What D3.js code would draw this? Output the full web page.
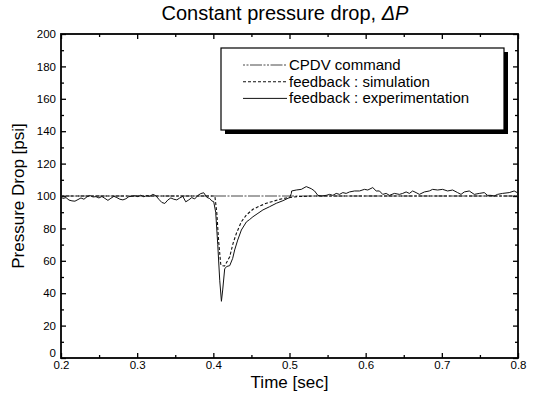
<!DOCTYPE html>
<html><head><meta charset="utf-8">
<script src="https://cdn.jsdelivr.net/npm/d3@7"></script>
<style>
body{margin:0;background:#fff}
text{font-family:Arial,"Liberation Sans",Helvetica,sans-serif;fill:#000}
</style>
</head><body>
<svg id="chart" width="537" height="399"></svg>
<script>
// ---- data ----
const xTickValues = [0.2, 0.3, 0.4, 0.5, 0.6, 0.7, 0.8];
const xTickLabels = ["0.2", "0.3", "0.4", "0.5", "0.6", "0.7", "0.8"];
const yTickValues = [0, 20, 40, 60, 80, 100, 120, 140, 160, 180, 200];
const yTickLabels = ["0", "20", "40", "60", "80", "100", "120", "140", "160", "180", "200"];

const cmdTime = [0.2, 0.8];
const cmdPress = [100, 100];

const simTime = [0.2, 0.402, 0.4045, 0.407, 0.4097, 0.4106, 0.4149, 0.4215, 0.4259, 0.4303, 0.4368, 0.4434, 0.452, 0.4608, 0.4696, 0.4783, 0.487, 0.4958, 0.51, 0.53, 0.8];
const simPress = [100, 100, 90, 72, 58, 57, 56.8, 62.5, 70.8, 77, 84.1, 88.3, 91.8, 93.8, 95.5, 96.7, 97.9, 98.8, 99.6, 100, 100];

const expTime = [0.200, 0.2026, 0.2066, 0.2105, 0.2144, 0.2183, 0.2223, 0.2262, 0.2301, 0.2341, 0.238, 0.242, 0.2459, 0.2498, 0.2537, 0.2577, 0.2616, 0.2655, 0.2695, 0.2734, 0.2773, 0.2813, 0.2852, 0.2891, 0.293, 0.297, 0.3009, 0.3048, 0.3088, 0.3127, 0.3166, 0.3206, 0.3245, 0.3284, 0.3324, 0.3363, 0.3402, 0.3442, 0.3481, 0.352, 0.356, 0.3599, 0.3638, 0.3678, 0.3717, 0.3756, 0.3796, 0.3835, 0.3874, 0.3914, 0.3953, 0.3979, 0.4005, 0.4031, 0.4058, 0.4084, 0.4106, 0.4123, 0.4149, 0.4175, 0.4215, 0.4254, 0.428, 0.432, 0.4368, 0.4434, 0.4477, 0.452, 0.4586, 0.4651, 0.4739, 0.4827, 0.4914, 0.498, 0.5001, 0.5024, 0.5028, 0.5089, 0.5155, 0.522, 0.5286, 0.5329, 0.5372, 0.5417, 0.5482, 0.5526, 0.5569, 0.5613, 0.5657, 0.57, 0.5744, 0.5788, 0.5853, 0.5919, 0.5984, 0.6028, 0.6093, 0.6138, 0.6181, 0.6224, 0.6269, 0.6312, 0.6377, 0.6443, 0.6486, 0.6531, 0.6574, 0.6617, 0.6662, 0.6705, 0.6771, 0.6836, 0.6879, 0.6945, 0.701, 0.7076, 0.7142, 0.7207, 0.7252, 0.7295, 0.736, 0.7426, 0.7492, 0.7557, 0.76, 0.7645, 0.7688, 0.7731, 0.7797, 0.7885, 0.795, 0.799];
const expPress = [99.5, 98.5, 99.0, 97.5, 97.0, 96.8, 97.8, 98.8, 98.0, 99.5, 100.3, 99.4, 99.6, 98.8, 99.7, 98.5, 97.3, 98.6, 99.8, 99.0, 98.0, 97.6, 98.3, 99.6, 99.8, 100.2, 99.6, 100.5, 99.5, 100.3, 99.8, 101.0, 100.2, 98.0, 96.0, 95.4, 97.5, 98.8, 98.0, 97.6, 98.8, 99.8, 96.4, 97.6, 99.0, 98.2, 100.3, 101.5, 102.0, 99.2, 98.4, 97.0, 96.5, 90, 70, 48, 35, 42, 55, 56.5, 57, 61.5, 66.7, 72.8, 79, 84, 85.5, 87.2, 89.3, 91.4, 93.4, 95.5, 97.1, 98.6, 99.0, 101.5, 103.1, 103.7, 104.1, 105.8, 104.5, 103.1, 100.4, 100.0, 100.4, 101.0, 100.4, 101.6, 101.0, 102.1, 101.6, 102.5, 103.1, 103.1, 104.1, 103.7, 105.2, 103.1, 103.1, 101.0, 101.6, 100.4, 101.6, 101.0, 101.6, 102.5, 101.6, 103.1, 102.1, 101.0, 102.5, 103.1, 104.1, 103.7, 104.1, 103.1, 103.7, 102.1, 101.0, 102.5, 103.1, 101.0, 101.6, 102.1, 100.4, 100.4, 100.0, 101.0, 101.6, 102.1, 103.1, 102.1];

const legendLabels = ["CPDV command", "feedback : simulation", "feedback : experimentation"];
const titleMain = "Constant pressure drop, ";
const titleSymbol = "ΔP";
const xLabel = "Time [sec]";
const yLabel = "Pressure Drop [psi]";

// ---- layout ----
const L = 61, R = 518, T = 34, B = 358;
const svg = d3.select("#chart");
const x = d3.scaleLinear().domain([0.2, 0.8]).range([L, R]);
const y = d3.scaleLinear().domain([0, 200]).range([B, T]);

const xMinor = d3.range(0.25, 0.8, 0.1);
const yMinor = d3.range(10, 200, 20);

function styleAxis(g) {
  g.select(".domain").remove();
  g.selectAll(".tick line").attr("stroke", "#000").attr("stroke-width", 1.3);
  g.selectAll(".tick text").attr("font-size", 11.5).attr("fill", "#000")
    .style("font-family", "Arial, 'Liberation Sans', sans-serif");
}

// bottom axis (major + labels)
svg.append("g").attr("transform", `translate(0,${B})`)
  .call(d3.axisBottom(x).tickValues(xTickValues).tickFormat((d, i) => xTickLabels[i]).tickSize(-5).tickPadding(3))
  .call(styleAxis);
svg.append("g").attr("transform", `translate(0,${B})`)
  .call(d3.axisBottom(x).tickValues(xMinor).tickFormat("").tickSize(-3))
  .call(styleAxis);
// top axis
svg.append("g").attr("transform", `translate(0,${T})`)
  .call(d3.axisTop(x).tickValues(xTickValues).tickFormat("").tickSize(-5))
  .call(styleAxis);
svg.append("g").attr("transform", `translate(0,${T})`)
  .call(d3.axisTop(x).tickValues(xMinor).tickFormat("").tickSize(-3))
  .call(styleAxis);
// left axis
const gl = svg.append("g").attr("transform", `translate(${L},0)`)
  .call(d3.axisLeft(y).tickValues(yTickValues).tickFormat((d, i) => yTickLabels[i]).tickSize(-5).tickPadding(5))
  .call(styleAxis);
gl.selectAll(".tick text").filter(d => d === 0).attr("dy", "-0.1em");
svg.append("g").attr("transform", `translate(${L},0)`)
  .call(d3.axisLeft(y).tickValues(yMinor).tickFormat("").tickSize(-3))
  .call(styleAxis);
// right axis
svg.append("g").attr("transform", `translate(${R},0)`)
  .call(d3.axisRight(y).tickValues(yTickValues).tickFormat("").tickSize(-5))
  .call(styleAxis);
svg.append("g").attr("transform", `translate(${R},0)`)
  .call(d3.axisRight(y).tickValues(yMinor).tickFormat("").tickSize(-3))
  .call(styleAxis);

// frame
svg.append("rect").attr("x", L).attr("y", T).attr("width", R - L).attr("height", B - T)
  .attr("fill", "none").attr("stroke", "#000").attr("stroke-width", 1.8);

// series
const line = d3.line().x(d => x(d[0])).y(d => y(d[1]));
const cmdData = cmdTime.map((t, i) => [t, cmdPress[i]]);
const simData = simTime.map((t, i) => [t, simPress[i]]);
const expData = expTime.map((t, i) => [t, expPress[i]]);

const styles = [
  {stroke: "#333", width: 0.9, dash: "12,1.5,2,1.5"},
  {stroke: "#111", width: 1.1, dash: "3,2"},
  {stroke: "#111", width: 1.0, dash: null}
];
[cmdData, simData, expData].forEach((data, i) => {
  svg.append("path").datum(data).attr("d", line)
    .attr("fill", "none").attr("stroke", styles[i].stroke)
    .attr("stroke-width", styles[i].width)
    .attr("stroke-dasharray", styles[i].dash)
    .attr("stroke-linejoin", "round");
});

// legend
const lgX = 221, lgY = 48, lgW = 283, lgH = 82;
svg.append("rect").attr("x", lgX + 4).attr("y", lgY + 4).attr("width", lgW).attr("height", lgH).attr("fill", "#000");
svg.append("rect").attr("x", lgX).attr("y", lgY).attr("width", lgW).attr("height", lgH)
  .attr("fill", "#fff").attr("stroke", "#000").attr("stroke-width", 1.2);
legendLabels.forEach((lab, i) => {
  const yy = lgY + 17 + i * 16.7;
  svg.append("line").attr("x1", lgX + 22).attr("x2", lgX + 66).attr("y1", yy).attr("y2", yy)
    .attr("stroke", styles[i].stroke).attr("stroke-width", styles[i].width)
    .attr("stroke-dasharray", i === 0 ? "2,1.5,2,1.5,12,1.5" : styles[i].dash);
  svg.append("text").attr("x", lgX + 68).attr("y", yy + 5).attr("font-size", 15).text(lab);
});

// title
const title = svg.append("text").attr("x", 285).attr("y", 20).attr("text-anchor", "middle").attr("font-size", 20);
title.append("tspan").text(titleMain);
title.append("tspan").attr("font-style", "italic").text(titleSymbol);

// axis labels
svg.append("text").attr("x", (L + R) / 2).attr("y", 388).attr("text-anchor", "middle").attr("font-size", 17).text(xLabel);
svg.append("text").attr("transform", `translate(24,${(T + B) / 2}) rotate(-90)`)
  .attr("text-anchor", "middle").attr("font-size", 17).text(yLabel);
</script>
</body></html>
